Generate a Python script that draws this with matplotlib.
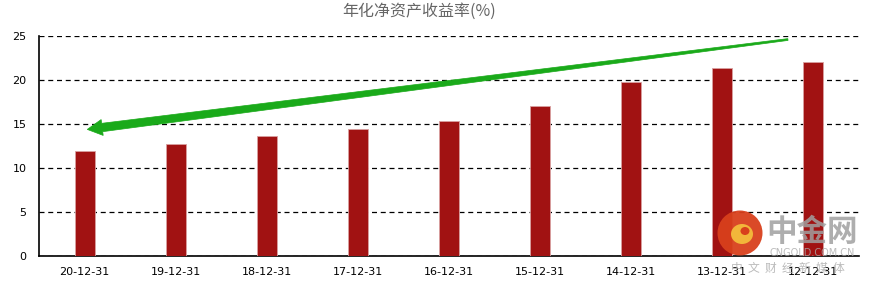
import matplotlib
matplotlib.use("Agg")
import matplotlib.pyplot as plt
from matplotlib.patches import Polygon, Ellipse
import numpy as np

plt.rcParams['font.family'] = ['DejaVu Sans', 'Noto Sans CJK SC']

title = "年化净资产收益率(%)"
categories = ["20-12-31", "19-12-31", "18-12-31", "17-12-31", "16-12-31",
              "15-12-31", "14-12-31", "13-12-31", "12-12-31"]
values = [11.9, 12.8, 13.6, 14.5, 15.4, 17.1, 19.8, 21.4, 22.1]
yticks = [0, 5, 10, 15, 20, 25]

# trend arrow (data coords): tail -> head
arrow_tail = (7.72, 24.6)
arrow_head = (0.03, 14.4)

W, H = 873, 286
fig = plt.figure(figsize=(W / 100, H / 100), dpi=100)
ax = fig.add_axes([39 / W, 1 - 256.3 / H, (859 - 39) / W, (256.3 - 36) / H])

x = np.arange(len(categories))
ax.bar(x, values, width=0.22, color="#A11212", edgecolor="#D9A0A0", linewidth=0.6, zorder=3)
ax.set_xlim(-0.5, len(categories) - 0.5)
ax.set_ylim(0, 25)
ax.set_yticks(yticks)
ax.set_xticks(x)
ax.set_xticklabels(categories)
ax.tick_params(axis='both', length=0, labelsize=8, colors="black")
ax.tick_params(axis='y', pad=9)
ax.tick_params(axis='x', pad=8)
for s in ["top", "right"]:
    ax.spines[s].set_visible(False)
ax.spines["left"].set_linewidth(1.2)
ax.spines["bottom"].set_linewidth(1.2)
ax.grid(axis='y', color="black", linestyle=(0, (4, 3)), linewidth=0.9, zorder=1)
ax.set_axisbelow(True)

fig.text(419 / W, 1 - 11 / H, title, ha="center", va="center", fontsize=11.5,
         color="#666666", family=['Noto Sans CJK SC', 'DejaVu Sans'])

# tapered arrow polygon built in pixel space
fig.canvas.draw()
t = ax.transData
p0 = np.array(t.transform(arrow_tail))
p1 = np.array(t.transform(arrow_head))
d = p1 - p0
L = np.hypot(*d)
u = d / L
n = np.array([-u[1], u[0]])
head_len, head_w = 15, 8
w_tail, w_neck = 0.9, 4.2
neck = p1 - u * head_len
pts = [p0 + n * w_tail, neck + n * w_neck, neck + n * head_w, p1,
       neck - n * head_w, neck - n * w_neck, p0 - n * w_tail]
pts_data = t.inverted().transform(np.array(pts))
ax.add_patch(Polygon(pts_data, closed=True, facecolor="#1AAA1A", edgecolor="#1AAA1A",
                     linewidth=0.5, zorder=5, clip_on=False))

# watermark
fig.patches.append(Ellipse((740 / W, 1 - 233 / H), 45 / W, 45 / H, transform=fig.transFigure,
                           facecolor="#D8401C", edgecolor="none", alpha=0.95, zorder=6))
fig.patches.append(Ellipse((742 / W, 1 - 234 / H), 22 / W, 20 / H, transform=fig.transFigure,
                           facecolor="#F2B63A", edgecolor="none", zorder=7))
fig.patches.append(Ellipse((745 / W, 1 - 231 / H), 9 / W, 8 / H, transform=fig.transFigure,
                           facecolor="#D8401C", edgecolor="none", zorder=8))
fig.text(812 / W, 1 - 232 / H, "中金网", ha="center", va="center", fontsize=22,
         color="#A0A0A0", alpha=0.85, fontweight="bold",
         family=['Noto Sans CJK SC', 'DejaVu Sans'], zorder=7)
fig.text(812 / W, 1 - 253 / H, "CNGOLD.COM.CN", ha="center", va="center", fontsize=7,
         color="#AAAAAA", alpha=0.8, zorder=7)
fig.text(788 / W, 1 - 268 / H, "中  文  财  经  新  媒  体", ha="center", va="center",
         fontsize=8.5, color="#AAAAAA", alpha=0.8,
         family=['Noto Sans CJK SC', 'DejaVu Sans'], zorder=7)

fig.savefig("out.png", dpi=100)
